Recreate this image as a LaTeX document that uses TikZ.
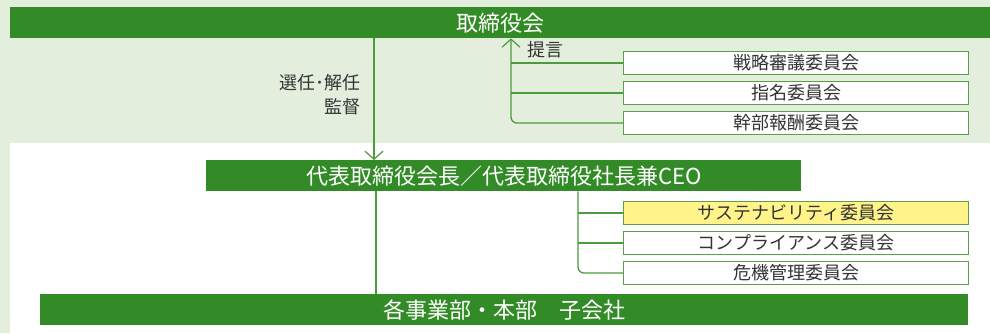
\documentclass[tikz,border=0pt]{standalone}
\usepackage{fontspec}
\setmainfont{Noto Sans CJK JP}
\usetikzlibrary{arrows.meta}
\definecolor{barG}{HTML}{338B27}
\definecolor{bgG}{HTML}{E3EFDC}
\definecolor{lineG}{HTML}{4E9A3E}
\definecolor{boxG}{HTML}{5AA048}
\definecolor{txt}{HTML}{333333}
\definecolor{yel}{HTML}{FFF38A}
\tikzset{
  bar/.style={fill=barG, draw=none, text=white, inner sep=0pt, anchor=north west,
    minimum height=31pt, font=\fontsize{22}{24}\selectfont},
  cbox/.style={fill=white, draw=boxG, line width=1.1pt, text=txt, inner sep=0pt,
    anchor=north west, minimum width=345pt, minimum height=23pt,
    font=\fontsize{18}{20}\selectfont},
  conn/.style={draw=lineG, line width=1.3pt},
  lbl/.style={text=txt, inner sep=0pt, font=\fontsize{18}{24}\selectfont},
  tip/.style={-{Straight Barb[length=8pt,width=18pt,line width=1.2pt]}}
}
\begin{document}
\begin{tikzpicture}[x=1pt,y=-1pt]
\useasboundingbox (0,0) rectangle (990,333);
\fill[white] (0,0) rectangle (990,333);
\fill[bgG] (0,0) rectangle (990,143);
\fill[bgG] (0,0) rectangle (10,333);
% bars
\node[bar, minimum width=980pt] (board) at (10,7) {取締役会};
\node[bar, minimum width=595pt] (ceo) at (206,160) {代表取締役会長／代表取締役社長兼CEO};
\node[bar, minimum width=928pt] (bottom) at (40,294) {各事業部・本部　子会社};
% committees of the board
\node[cbox] (c1) at (623,51) {戦略審議委員会};
\node[cbox] (c2) at (623,81) {指名委員会};
\node[cbox] (c3) at (623,111) {幹部報酬委員会};
% committees of the CEO
\node[cbox, fill=yel] (d1) at (623,201) {サステナビリティ委員会};
\node[cbox] (d2) at (623,231) {コンプライアンス委員会};
\node[cbox] (d3) at (623,261) {危機管理委員会};
% coordinates
\coordinate (ax) at (374,0);
\coordinate (bx) at (376,0);
\coordinate (ux) at (511,0);
\coordinate (lx) at (578,0);
% arrow board -> ceo
\draw[conn, tip] (board.south -| ax) -- (ceo.north -| ax);
\node[lbl, anchor=east, align=right] (sel) at (361,95) {選任･解任\\監督};
% ceo -> bottom
\draw[conn] (ceo.south -| bx) -- (bottom.north -| bx);
% proposals up
\draw[conn, tip, rounded corners=6pt] (c3.west) -| (board.south -| ux);
\draw[conn] (c1.west) -- (c1.west -| ux);
\draw[conn] (c2.west) -- (c2.west -| ux);
\node[lbl, anchor=north west] (prop) at (527,41) {提言};
% ceo committees
\draw[conn, rounded corners=6pt] (ceo.south -| lx) |- (d3.west);
\draw[conn] (d1.west) -- (d1.west -| lx);
\draw[conn] (d2.west) -- (d2.west -| lx);
\end{tikzpicture}
\end{document}
